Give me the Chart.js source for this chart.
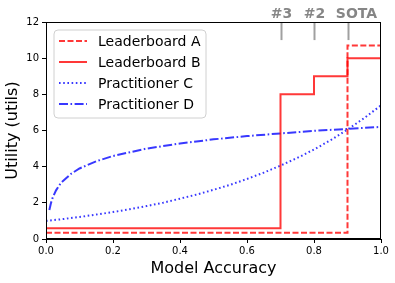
<!DOCTYPE html>
<html><head><meta charset="utf-8">
<script src="https://cdn.jsdelivr.net/npm/chart.js@4"></script>
<style>html,body{margin:0;padding:0;background:#fff}</style>
</head><body>
<canvas id="c" width="395" height="283"></canvas>
<script>
// Leaderboard A (dashed red)
const aX = [0, 0.9, 0.9, 1.0];
const aY = [0.35, 0.35, 10.7, 10.7];
// Leaderboard B (solid red)
const bX = [0, 0.7, 0.7, 0.8, 0.8, 0.9, 0.9, 1.0];
const bY = [0.6, 0.6, 8.0, 8.0, 9.0, 9.0, 10.0, 10.0];
// Practitioner C (dotted blue)
const cX = [0, 0.05, 0.1, 0.15, 0.2, 0.25, 0.3, 0.35, 0.4, 0.45, 0.5, 0.55, 0.6, 0.65, 0.7, 0.75, 0.8, 0.85, 0.9, 0.95, 1.0];
const cY = [1.0, 1.1, 1.22, 1.35, 1.49, 1.65, 1.82, 2.01, 2.23, 2.46, 2.72, 3.0, 3.32, 3.67, 4.06, 4.48, 4.95, 5.47, 6.05, 6.69, 7.39];
// Practitioner D (dash-dot blue)
const dX = [0.01, 0.015, 0.02, 0.03, 0.04, 0.05, 0.075, 0.1, 0.15, 0.2, 0.3, 0.4, 0.5, 0.6, 0.7, 0.8, 0.9, 1.0];
const dY = [1.6, 2.0, 2.29, 2.69, 2.98, 3.2, 3.61, 3.9, 4.3, 4.59, 5.0, 5.28, 5.51, 5.69, 5.84, 5.98, 6.09, 6.2];
const seriesNames = ['Leaderboard A', 'Leaderboard B', 'Practitioner C', 'Practitioner D'];
// top annotations
const markX = [0.7, 0.8, 0.9];
const markLabels = ['#3', '#2', 'SOTA'];
const xTicks = [0, 0.2, 0.4, 0.6, 0.8, 1.0];
const yTicks = [0, 2, 4, 6, 8, 10, 12];

const RED = 'rgba(255,0,0,0.78)';
const BLUE = 'rgba(0,0,255,0.78)';
const pts = (xs, ys) => xs.map((x, i) => ({x: x, y: ys[i]}));
const styles = [
  {color: RED, dash: [6, 2.5]},
  {color: RED, dash: []},
  {color: BLUE, dash: [1.6, 2.6]},
  {color: BLUE, dash: [9, 2.5, 1.6, 2.5]}
];
const data = [pts(aX, aY), pts(bX, bY), pts(cX, cY), pts(dX, dY)];
const FONT = 'DejaVu Sans';

const extras = {
  id: 'extras',
  afterDatasetsDraw(chart) {
    const ctx = chart.ctx, xs = chart.scales.x, ys = chart.scales.y, ca = chart.chartArea;
    ctx.save();
    // top marks
    ctx.strokeStyle = '#a0a0a0'; ctx.lineWidth = 2; ctx.setLineDash([]);
    ctx.fillStyle = '#868686';
    ctx.font = 'bold 14px "' + FONT + '"';
    ctx.textAlign = 'center'; ctx.textBaseline = 'alphabetic';
    markX.forEach((v, i) => {
      const px = Math.round(xs.getPixelForValue(v)) + 0.5;
      ctx.beginPath();
      ctx.moveTo(px, ys.getPixelForValue(12));
      ctx.lineTo(px, ys.getPixelForValue(11));
      ctx.stroke();
      const shift = markLabels[i].length > 2 ? 8 : 0;
      ctx.fillText(markLabels[i], px + shift, 18);
    });
    // frame
    ctx.strokeStyle = '#000'; ctx.lineWidth = 1;
    ctx.strokeRect(Math.round(ca.left) + 0.5, Math.round(ca.top) + 0.5, Math.round(ca.right - ca.left) - 1, Math.round(ca.bottom - ca.top) - 1);
    // legend
    const L = 54, T = 30, R = 206, B = 118, r = 4;
    ctx.beginPath();
    ctx.moveTo(L + r, T); ctx.lineTo(R - r, T); ctx.quadraticCurveTo(R, T, R, T + r);
    ctx.lineTo(R, B - r); ctx.quadraticCurveTo(R, B, R - r, B);
    ctx.lineTo(L + r, B); ctx.quadraticCurveTo(L, B, L, B - r);
    ctx.lineTo(L, T + r); ctx.quadraticCurveTo(L, T, L + r, T);
    ctx.closePath();
    ctx.fillStyle = 'rgba(255,255,255,0.85)'; ctx.fill();
    ctx.strokeStyle = '#d0d0d0'; ctx.lineWidth = 1; ctx.stroke();
    const rows = [41, 62, 83, 104];
    ctx.font = '14px "' + FONT + '"';
    ctx.textAlign = 'left'; ctx.textBaseline = 'middle';
    seriesNames.forEach((n, i) => {
      ctx.strokeStyle = styles[i].color; ctx.lineWidth = 2;
      ctx.setLineDash(styles[i].dash);
      ctx.beginPath(); ctx.moveTo(59, rows[i]); ctx.lineTo(87, rows[i]); ctx.stroke();
      ctx.setLineDash([]);
      ctx.fillStyle = '#000';
      ctx.fillText(n, 98, rows[i] + 1);
    });
    ctx.restore();
  }
};

new Chart(document.getElementById('c'), {
  type: 'line',
  data: {
    datasets: data.map((d, i) => ({
      label: seriesNames[i], data: d,
      borderColor: styles[i].color, borderDash: styles[i].dash,
      borderWidth: 2, pointRadius: 0, fill: false, tension: 0
    }))
  },
  options: {
    responsive: false, animation: false, devicePixelRatio: 1,
    layout: {padding: {top: 22, right: 14, left: 0, bottom: 0}},
    plugins: {legend: {display: false}, tooltip: {enabled: false}},
    scales: {
      x: {
        type: 'linear', min: 0, max: 1,
        afterBuildTicks: s => { s.ticks = xTicks.map(v => ({value: v})); },
        afterFit: s => { s.height = 44; },
        ticks: {font: {family: FONT, size: 10}, color: '#000', padding: 2, maxRotation: 0,
          callback: v => v.toFixed(1)},
        grid: {display: true, drawOnChartArea: false, drawTicks: true, tickLength: 4, color: '#000'},
        border: {display: true, color: '#000'},
        title: {display: true, text: 'Model Accuracy', font: {family: FONT, size: 16}, color: '#000', padding: {top: 0, bottom: 5}}
      },
      y: {
        min: 0, max: 12,
        afterBuildTicks: s => { s.ticks = yTicks.map(v => ({value: v})); },
        afterFit: s => { s.width = 46; },
        ticks: {font: {family: FONT, size: 10}, color: '#000', padding: 3},
        grid: {display: true, drawOnChartArea: false, drawTicks: true, tickLength: 4, color: '#000'},
        border: {display: true, color: '#000'},
        title: {display: true, text: 'Utility (utils)', font: {family: FONT, size: 16}, color: '#000', padding: {top: 3, bottom: 0}}
      }
    }
  },
  plugins: [extras]
});
</script>
</body></html>
